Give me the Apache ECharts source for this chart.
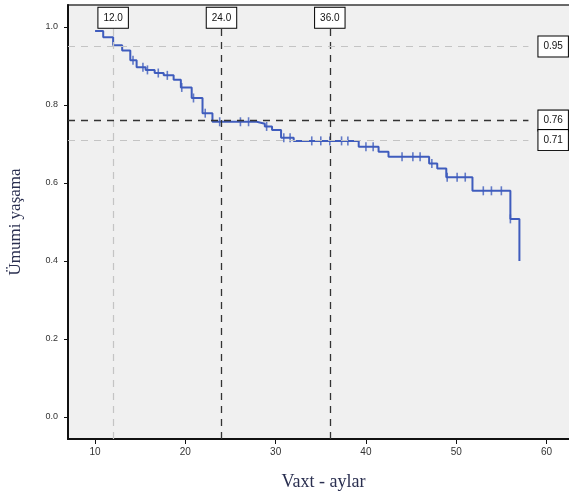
<!DOCTYPE html>
<html lang="az">
<head>
<meta charset="UTF-8">
<title>Ümumi yaşama</title>
<script src="https://cdn.jsdelivr.net/npm/echarts@6/dist/echarts.min.js"></script>
<style>html,body{margin:0;padding:0;background:#fff;}</style>
</head>
<body>
<div id="chart" style="width:569px;height:493px;"></div>
<script>
// Kaplan-Meier pilləli əyri: zaman (ay) və həmin andan sonrakı yaşama
var stepTimes = [10.0, 10.9, 12.0, 13.0, 13.9, 14.6, 15.6, 16.6, 17.6, 18.7, 19.5, 20.7, 21.9, 23.0,
                 27.9, 28.8, 29.6, 30.6, 32.0, 39.2, 41.4, 42.5, 47.0, 47.9, 48.9, 51.8, 56.0, 57.0];
var stepSurv  = [0.990, 0.974, 0.953, 0.940, 0.915, 0.897, 0.890, 0.882, 0.876, 0.865, 0.845, 0.818, 0.779, 0.757,
                 0.752, 0.745, 0.736, 0.716, 0.708, 0.693, 0.680, 0.667, 0.650, 0.637, 0.615, 0.580, 0.508, 0.400];

// senzura nöqtələri (+)
var censorTimes = [14.2, 15.3, 15.8, 17.0, 18.0, 19.6, 20.9, 22.2, 23.8, 26.1, 27.0, 29.0, 30.9, 31.6,
                   34.0, 35.0, 36.0, 37.3, 38.0, 40.0, 40.8, 44.0, 45.2, 46.0, 47.3, 49.0, 50.1, 51.0,
                   53.0, 53.9, 55.0, 56.0];
var censorSurv  = [0.915, 0.897, 0.890, 0.882, 0.876, 0.845, 0.818, 0.779, 0.757, 0.757, 0.757, 0.745, 0.716, 0.716,
                   0.708, 0.708, 0.708, 0.708, 0.708, 0.693, 0.693, 0.667, 0.667, 0.667, 0.650, 0.615, 0.615, 0.615,
                   0.580, 0.580, 0.580, 0.508];

var xTicks = [10, 20, 30, 40, 50, 60];
var yTicks = [0, 0.2, 0.4, 0.6, 0.8, 1.0];

// istinad xətləri
var refTimes = [12, 24, 36];
var refTimeLabels = ['12.0', '24.0', '36.0'];
var refSurv = [0.95, 0.76, 0.71];
var refSurvLabels = ['0.95', '0.76', '0.71'];

var xMin = 7, xMax = 63.6, yMin = -0.0564, yMax = 1.0564;
var blue = '#3f5cbd';

var chart = echarts.init(document.getElementById('chart'));

var curve = stepTimes.map(function (t, i) { return [t, stepSurv[i]]; });
var censors = censorTimes.map(function (t, i) { return [t, censorSurv[i]]; });

var boxLabel = {
    show: true,
    backgroundColor: '#fff',
    borderColor: '#000',
    borderWidth: 1,
    padding: [5, 5, 5, 5],
    color: '#111',
    fontSize: 10,
    fontFamily: 'Liberation Sans'
};

var marks = [];
refTimes.forEach(function (t, i) {
    var dark = i > 0;
    marks.push([
        {coord: [t, yMin], lineStyle: {color: dark ? '#333' : '#c4c4c4', width: dark ? 1.3 : 1.2, type: [7, 6]},
         label: Object.assign({}, boxLabel, {position: 'end', distance: 0, formatter: refTimeLabels[i]})},
        {coord: [t, 0.998]}
    ]);
});
refSurv.forEach(function (s, i) {
    var dark = i === 1;
    marks.push([
        {coord: [xMin, s], lineStyle: {color: dark ? '#333' : '#c4c4c4', width: dark ? 1.3 : 1.2, type: [7, 6]},
         label: Object.assign({}, boxLabel, {position: 'end', distance: 10, formatter: refSurvLabels[i]})},
        {coord: [58, s]}
    ]);
});

var option = {
    animation: false,
    grid: {
        left: 68, width: 511, top: 5, height: 434,
        outerBoundsMode: 'none', containLabel: false,
        show: true, backgroundColor: '#f0f0f0', borderColor: '#3a3a3a', borderWidth: 1.5
    },
    xAxis: {
        type: 'value', min: xMin, max: xMax,
        name: 'Vaxt - aylar', nameLocation: 'middle', nameGap: 34,
        nameTextStyle: {fontFamily: 'Liberation Serif', fontSize: 18, color: '#2a2f50'},
        axisLine: {show: true, onZero: false, lineStyle: {color: '#111', width: 2}},
        axisTick: {show: true, length: 5, customValues: xTicks, lineStyle: {color: '#111'}},
        axisLabel: {customValues: xTicks, margin: 8, fontSize: 10, color: '#333', fontFamily: 'Liberation Sans'},
        splitLine: {show: false}
    },
    yAxis: {
        type: 'value', min: yMin, max: yMax,
        name: 'Ümumi yaşama', nameLocation: 'middle', nameGap: 44,
        nameTextStyle: {fontFamily: 'Liberation Serif', fontSize: 17, color: '#2a2f50'},
        axisLine: {show: true, onZero: false, lineStyle: {color: '#111', width: 2}},
        axisTick: {show: true, length: 4, customValues: yTicks, lineStyle: {color: '#111'}},
        axisLabel: {customValues: yTicks, margin: 10, fontSize: 9, color: '#333', fontFamily: 'Liberation Sans',
                    formatter: function (v) { return v.toFixed(1); }},
        splitLine: {show: false}
    },
    series: [
        {
            type: 'line', step: 'end', data: curve, showSymbol: false, silent: true,
            lineStyle: {color: blue, width: 2},
            markLine: {symbol: 'none', silent: true, data: marks}
        },
        {
            type: 'scatter', data: censors, symbol: 'rect', symbolSize: [1.6, 9], silent: true,
            itemStyle: {color: blue}
        }
    ]
};

chart.setOption(option);
</script>
</body>
</html>
